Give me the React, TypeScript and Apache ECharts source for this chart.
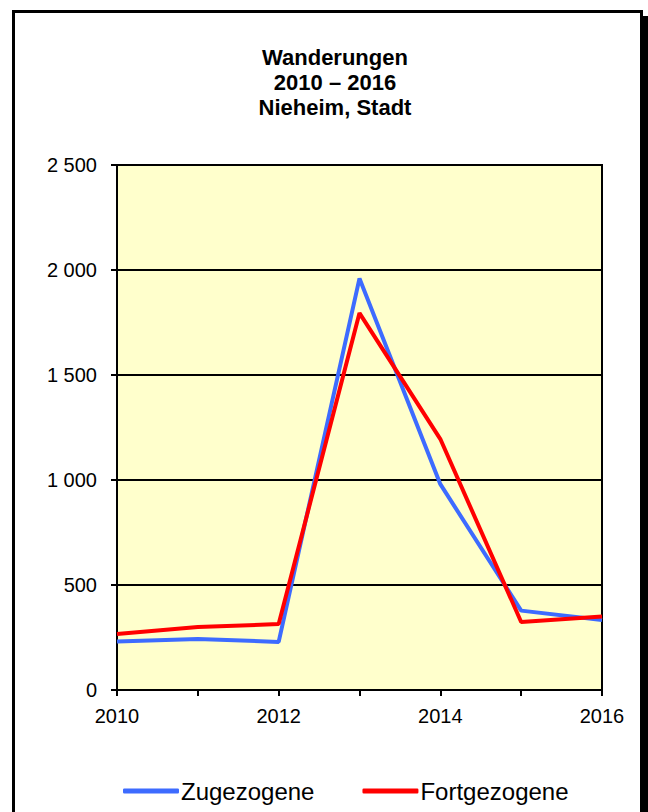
import React, { useEffect, useRef } from "react";
import * as echarts from "echarts";

const years = ["2010", "2011", "2012", "2013", "2014", "2015", "2016"];
const zugezogene = [231, 243, 229, 1960, 980, 378, 333];
const fortgezogene = [267, 300, 314, 1795, 1195, 324, 350];
const yTicks = [0, 500, 1000, 1500, 2000, 2500];

const fmt = (v: number) => String(v).replace(/\B(?=(\d{3})+(?!\d))/g, " ");

export default function App() {
  const ref = useRef<HTMLDivElement>(null);
  useEffect(() => {
    if (!ref.current) return;
    const chart = echarts.init(ref.current, null, { renderer: "svg" });
    const font = "'Liberation Sans', Arial, sans-serif";
    chart.setOption({
      animation: false,
      backgroundColor: "#ffffff",
      textStyle: { fontFamily: font },
      title: {
        text: "Wanderungen\n2010 – 2016\nNieheim, Stadt",
        left: 330,
        textAlign: "center",
        top: 40,
        textStyle: {
          fontFamily: font,
          fontWeight: "bold",
          fontSize: 22,
          lineHeight: 25,
          color: "#000",
        },
      },
      graphic: [
        {
          type: "rect",
          shape: { x: 643, y: 16, width: 6, height: 820 },
          style: { fill: "#000" },
          silent: true,
        },
        {
          type: "rect",
          shape: { x: 13.5, y: 11.5, width: 628, height: 830 },
          style: { fill: "none", stroke: "#000", lineWidth: 3 },
          silent: true,
        },
      ],
      grid: {
        left: 117,
        right: 46,
        top: 165,
        bottom: 122,
        show: true,
        backgroundColor: "#FFFFCC",
        borderColor: "#000",
        borderWidth: 2,
      },
      xAxis: {
        type: "category",
        data: years,
        boundaryGap: false,
        axisLine: { show: true, lineStyle: { color: "#000", width: 2 } },
        axisTick: { show: true, interval: 0, length: 6, lineStyle: { color: "#000", width: 2 } },
        axisLabel: {
          interval: 1,
          color: "#000",
          fontSize: 20,
          fontFamily: font,
          margin: 16,
        },
        splitLine: { show: false },
      },
      yAxis: {
        type: "value",
        min: yTicks[0],
        max: yTicks[yTicks.length - 1],
        interval: 500,
        axisLine: { show: true, lineStyle: { color: "#000", width: 2 } },
        axisTick: { show: true, length: 6, lineStyle: { color: "#000", width: 2 } },
        axisLabel: {
          color: "#000",
          fontSize: 20,
          fontFamily: font,
          margin: 20,
          formatter: (v: number) => fmt(v),
        },
        splitLine: { show: true, lineStyle: { color: "#000", width: 2 } },
      },
      legend: {
        bottom: 4,
        left: 118,
        itemGap: 48,
        itemWidth: 56,
        itemHeight: 5,
        icon: "roundRect",
        textStyle: { fontSize: 24, fontFamily: font, color: "#000", padding: [0, 0, 0, -3] },
        data: ["Zugezogene", "Fortgezogene"],
      },
      series: [
        {
          name: "Zugezogene",
          type: "line",
          data: zugezogene,
          symbol: "none",
          lineStyle: { color: "#3D6BFF", width: 4 },
          itemStyle: { color: "#3D6BFF" },
        },
        {
          name: "Fortgezogene",
          type: "line",
          data: fortgezogene,
          symbol: "none",
          lineStyle: { color: "#FF0000", width: 4 },
          itemStyle: { color: "#FF0000" },
        },
      ],
    });
    return () => chart.dispose();
  }, []);
  return (
    <div
      ref={ref}
      style={{ position: "fixed", left: 0, top: 0, width: 648, height: 812 }}
    />
  );
}
